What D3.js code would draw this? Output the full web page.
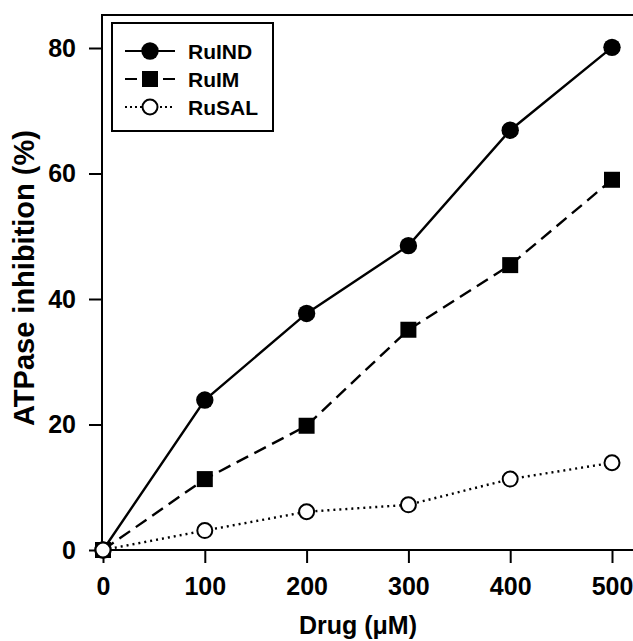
<!DOCTYPE html>
<html>
<head>
<meta charset="utf-8">
<script src="https://cdn.jsdelivr.net/npm/d3@7"></script>
<style>
  body { margin: 0; background: #fff; }
  text { font-family: "Liberation Sans", Arial, sans-serif; font-weight: bold; fill: #000; }
</style>
</head>
<body>
<div id="chart"></div>
<script>
// data
const doses = [0, 100, 200, 300, 400, 500];
const ruIND = [0, 23.9, 37.7, 48.5, 66.9, 80.1];
const ruIM = [0, 11.3, 19.8, 35.1, 45.4, 59.0];
const ruSAL = [0, 3.1, 6.1, 7.2, 11.3, 13.9];
const xTicks = [0, 100, 200, 300, 400, 500];
const yTicks = [0, 20, 40, 60, 80];

const series = [
  { name: "RuIND", values: ruIND, dash: null, marker: "circle", fill: "#000" },
  { name: "RuIM", values: ruIM, dash: "13,7", marker: "square", fill: "#000" },
  { name: "RuSAL", values: ruSAL, dash: "2,4", marker: "circle", fill: "#fff" }
];

const W = 633, H = 641;
const svg = d3.select("#chart").append("svg")
  .attr("width", W)
  .attr("height", H);

const x = d3.scaleLinear().domain([0, 500]).range([103, 612]);
const y = d3.scaleLinear().domain([0, 80]).range([550, 48]);
const x0 = 102, yTop = 15;

// frame: left, top, bottom
svg.append("path")
  .attr("d", `M${W},${yTop}H${x0}V550H${W}`)
  .attr("fill", "none")
  .attr("stroke", "#000")
  .attr("stroke-width", 2);

// x axis
const xAxis = svg.append("g")
  .attr("transform", "translate(0,550)")
  .call(d3.axisBottom(x).tickValues(xTicks).tickSize(13).tickPadding(14));
xAxis.select(".domain").remove();
xAxis.selectAll("line").attr("stroke-width", 2);
xAxis.selectAll("text").attr("font-size", 25).attr("font-family", null);

// y axis
const yAxis = svg.append("g")
  .attr("transform", `translate(${x0},0)`)
  .call(d3.axisLeft(y).tickValues(yTicks).tickSize(13).tickPadding(13));
yAxis.select(".domain").remove();
yAxis.selectAll("line").attr("stroke-width", 2);
yAxis.selectAll("text").attr("font-size", 25).attr("font-family", null);

// axis titles
svg.append("text")
  .attr("x", 358).attr("y", 634)
  .attr("text-anchor", "middle")
  .attr("font-size", 25)
  .text("Drug (μM)");

svg.append("text")
  .attr("transform", "translate(34,278) rotate(-90)")
  .attr("text-anchor", "middle")
  .attr("font-size", 29)
  .text("ATPase inhibition (%)");

const line = d3.line()
  .x((d, i) => x(doses[i]))
  .y(d => y(d));

function marker(g, s, cx, cy) {
  if (s.marker === "square") {
    g.append("rect")
      .attr("x", cx - 8).attr("y", cy - 8)
      .attr("width", 16).attr("height", 16)
      .attr("fill", s.fill);
  } else if (s.fill === "#fff") {
    g.append("circle")
      .attr("cx", cx).attr("cy", cy)
      .attr("r", 7.5)
      .attr("fill", "#fff")
      .attr("stroke", "#000")
      .attr("stroke-width", 2);
  } else {
    g.append("circle")
      .attr("cx", cx).attr("cy", cy)
      .attr("r", 8.7)
      .attr("fill", "#000");
  }
}

series.forEach(s => {
  svg.append("path")
    .datum(s.values)
    .attr("d", line)
    .attr("fill", "none")
    .attr("stroke", "#000")
    .attr("stroke-width", 2.4)
    .attr("stroke-dasharray", s.dash);
});
series.forEach(s => {
  const g = svg.append("g");
  s.values.forEach((v, i) => marker(g, s, x(doses[i]), y(v)));
});

// legend
const leg = svg.append("g");
leg.append("rect")
  .attr("x", 112).attr("y", 23)
  .attr("width", 161).attr("height", 108)
  .attr("fill", "#fff")
  .attr("stroke", "#000")
  .attr("stroke-width", 2);

series.forEach((s, i) => {
  const cy = 51 + i * 28;
  leg.append("line")
    .attr("x1", 125).attr("x2", 175)
    .attr("y1", cy).attr("y2", cy)
    .attr("stroke", "#000")
    .attr("stroke-width", 2)
    .attr("stroke-dasharray", s.dash ? (s.marker === "square" ? "12,26,12" : "2,3") : null);
  marker(leg, s, 150, cy);
  leg.append("text")
    .attr("x", 188).attr("y", cy)
    .attr("dy", "0.36em")
    .attr("font-size", 21)
    .text(s.name);
});
</script>
</body>
</html>
